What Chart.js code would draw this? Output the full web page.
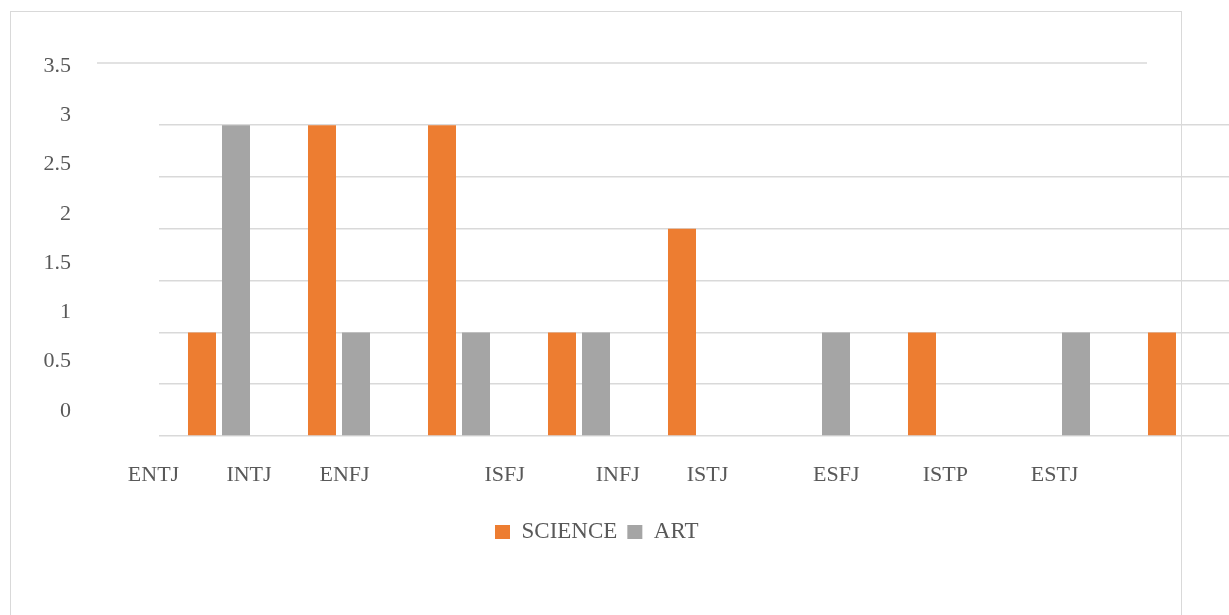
<!DOCTYPE html>
<html>
<head>
<meta charset="utf-8">
<title>SCIENCE / ART</title>
<script src="https://cdn.jsdelivr.net/npm/chart.js@4.4.1/dist/chart.umd.min.js"></script>
<style>
  html, body { margin: 0; padding: 0; background: #ffffff; overflow: hidden; }
  #wrap { position: relative; width: 1229px; height: 615px; }
  #frame { position: absolute; left: 10px; top: 11px; width: 1170px; height: 700px; border: 1.5px solid #d9d9d9; }
  #chart { position: absolute; left: 0; top: 0; }
</style>
</head>
<body>
<div id="wrap">
  <div id="frame"></div>
  <canvas id="chart" width="1229" height="615"></canvas>
</div>
<script>
// Personality types and the counts per group
const categories = ['ENTJ', 'INTJ', 'ENFJ', 'ISFJ', 'INFJ', 'ISTJ', 'ESFJ', 'ISTP', 'ESTJ'];
const science = [1, 3, 3, 1, 2, 0, 1, 0, 1];
const art = [3, 1, 1, 1, 0, 1, 0, 1, 0];

// Value-axis labels and the gridlines drawn across the plot
const yTickValues = [0, 0.5, 1, 1.5, 2, 2.5, 3, 3.5];
const gridValues = [0, 0.5, 1, 1.5, 2, 2.5, 3];

// Where each type name sits along the group axis (group units)
const labelSlots = [-0.546, 0.25, 1.046, 2.381, 3.323, 4.071, 5.144, 6.053, 6.963];

const ORANGE = '#ED7D31';
const GREY = '#A5A5A5';
const GRID = '#D9D9D9';
const TEXT = '#595959';
const FONT = "'Liberation Serif', 'Times New Roman', serif";

// Top rule and legend placement
const chrome = {
  id: 'chrome',
  beforeDatasetsDraw(chart, args, opts) {
    const { ctx, chartArea } = chart;
    ctx.save();
    ctx.strokeStyle = GRID;
    ctx.lineWidth = 1.5;
    ctx.beginPath();
    ctx.moveTo(opts.ruleFrom, chartArea.top);
    ctx.lineTo(opts.ruleTo, chartArea.top);
    ctx.stroke();
    ctx.restore();
  },
  beforeDraw(chart, args, opts) {
    const lg = chart.legend;
    if (!lg) return;
    const w = lg.right - lg.left;
    lg.left = opts.legendX - lg.options.labels.padding;
    lg.right = lg.left + w;
  }
};

new Chart(document.getElementById('chart'), {
  type: 'bar',
  data: {
    datasets: [
      {
        label: 'SCIENCE',
        data: science.map((v, i) => ({ x: i, y: v })),
        xAxisID: 'x',
        yAxisID: 'y',
        backgroundColor: ORANGE,
        borderWidth: 0
      },
      {
        label: 'ART',
        data: art.map((v, i) => ({ x: i, y: v })),
        xAxisID: 'x',
        yAxisID: 'y',
        backgroundColor: GREY,
        borderWidth: 0
      }
    ]
  },
  plugins: [chrome],
  options: {
    responsive: false,
    animation: false,
    datasets: { bar: { categoryPercentage: 0.5667, barPercentage: 0.8235 } },
    layout: { padding: { left: 0, top: 63, right: 0, bottom: 61.5 } },
    plugins: {
      tooltip: { enabled: false },
      chrome: { ruleFrom: 97, ruleTo: 1147, legendX: 495 },
      legend: {
        position: 'bottom',
        align: 'start',
        labels: {
          boxWidth: 15,
          boxHeight: 14,
          padding: 10,
          color: TEXT,
          font: { family: FONT, size: 23 }
        }
      }
    },
    scales: {
      x: {
        type: 'linear',
        display: false,
        offset: false,
        min: -0.5,
        max: 8.4167,
        afterBuildTicks: s => { s.ticks = categories.map((_, i) => ({ value: i })); }
      },
      xl: {
        type: 'linear',
        position: 'bottom',
        offset: false,
        min: -0.5,
        max: 8.4167,
        grid: { display: false, drawTicks: false },
        border: { display: false },
        afterBuildTicks: s => { s.ticks = labelSlots.map(v => ({ value: v })); },
        afterFit: s => { s.height = 74.5; },
        ticks: {
          autoSkip: false,
          maxRotation: 0,
          minRotation: 0,
          padding: 26,
          color: TEXT,
          font: { family: FONT, size: 22 },
          callback: (v, i) => categories[i]
        }
      },
      y: {
        type: 'linear',
        position: 'left',
        min: 0,
        max: 3.6,
        grid: { color: GRID, lineWidth: 1.5, drawTicks: false },
        border: { display: false },
        ticks: { display: false },
        afterFit: s => { s.width = 88; },
        afterBuildTicks: s => { s.ticks = gridValues.map(v => ({ value: v })); }
      },
      yl: {
        type: 'linear',
        position: 'left',
        min: -0.2536,
        max: 3.530,
        grid: { display: false, drawTicks: false },
        border: { display: false },
        afterBuildTicks: s => { s.ticks = yTickValues.map(v => ({ value: v })); },
        afterFit: s => { s.width = 71; },
        ticks: {
          padding: 0,
          color: TEXT,
          font: { family: FONT, size: 22 },
          callback: v => String(v)
        }
      }
    }
  }
});
</script>
</body>
</html>
